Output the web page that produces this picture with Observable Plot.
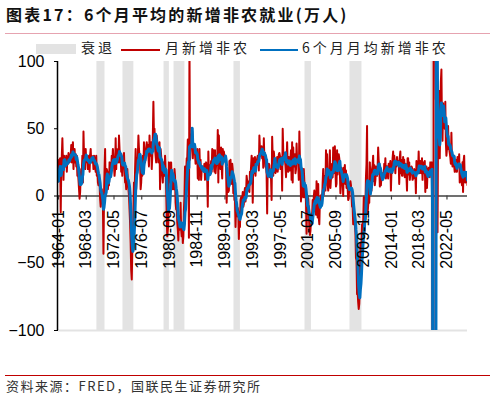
<!DOCTYPE html>
<html><head><meta charset="utf-8">
<script src="https://cdn.jsdelivr.net/npm/d3@7"></script>
<script src="https://cdn.jsdelivr.net/npm/@observablehq/plot@0.6"></script>
<style>
body{margin:0;background:#fff;width:495px;height:399px;overflow:hidden;font-family:"Noto Sans CJK SC",sans-serif;}
#title{margin:0 5px;height:33px;border-bottom:1.5px solid #e6a3b0;font-weight:bold;font-size:16px;line-height:28px;padding-left:1px;letter-spacing:2.2px;color:#111;white-space:nowrap;}
#legend{position:relative;height:14.5px;font-size:14px;letter-spacing:3px;color:#222;z-index:2;}
#legend .it{position:absolute;}
#legend .txt{top:5px;line-height:16px;white-space:nowrap;}
svg{display:block;}
#footer{margin:5px 5px 0 5px;border-top:1.5px solid #c00000;font-size:13px;line-height:20px;letter-spacing:1.5px;color:#333;padding-left:1px;white-space:nowrap;}
</style></head><body>
<div id="title">图表17：6个月平均的新增非农就业(万人)</div>
<div id="legend">
  <div class="it" style="left:36px;top:9.5px;width:40px;height:10px;background:#e3e3e3"></div>
  <div class="it txt" style="left:81px">衰退</div>
  <div class="it" style="left:121px;top:14.5px;width:39px;height:2.5px;background:#c00000"></div>
  <div class="it txt" style="left:165px">月新增非农</div>
  <div class="it" style="left:260px;top:14.5px;width:38px;height:2.5px;background:#0070c0"></div>
  <div class="it txt" style="left:302px">6个月月均新增非农</div>
</div>
<div id="chart"></div>
<div id="footer">资料来源：FRED，国联民生证券研究所</div>
<script>
// monthly change in nonfarm payrolls (万人), starting 1964-01
const startMonth = "1964-01";
const payrollChange = [
  11, 27, 22, 28, -12, 20, 30, 43, 25, 12, 30, 22,   // 1964
  25, 22, 30, 18, 28, 24, 32, 30, 25, 28, 30, 38,    // 1965
  25, 35, 40, 20, 30, 35, 25, 31, 22, 30, 15, 18,    // 1966
  12, 5, -2, 3, 15, 20, 18, 30, 10, 48, 30, 25,      // 1967
  20, 35, 25, 30, 28, 20, 22, 30, 18, 30, 35, 25,    // 1968
  30, 25, 28, 20, 30, 25, 22, 18, 30, 15, 20, 10,    // 1969
  8, 12, 10, -2, -8, -3, 5, -5, -5, -43, 0, 20,      // 1970
  35, 0, 5, 20, 18, 5, 10, 8, 25, 18, 20, 22,        // 1971
  30, 25, 35, 28, 22, 15, 20, 43, 20, 35, 30, 28,    // 1972
  25, 45, 35, 25, 30, 18, 22, 15, 28, 30, 32, 20,    // 1973
  10, 12, 5, 15, 20, 12, 5, 0, -10, -20, -35, -55,   // 1974
  -62, -40, -35, -10, 10, 0, 20, 35, 5, 25, 20, 30,  // 1975
  45, 35, 30, 25, 5, 10, 20, 15, 30, 20, 40, 30,     // 1976
  25, 30, 35, 40, 35, 38, 30, 22, 45, 30, 35, 40,    // 1977
  20, 30, 45, 70, 45, 50, 35, 30, 25, 45, 40, 35,    // 1978
  25, 30, 40, 5, 35, 30, 20, 15, 10, 25, 20, 15,     // 1979
  30, 20, 5, -15, -30, -25, -20, 25, 10, 20, 25, 25, // 1980
  10, 5, 15, 10, 5, 20, 15, -5, -10, -5, -20, -25,   // 1981
  -33, -15, -20, -25, -5, -25, -30, -20, -35, -30, -10, 0, // 1982
  22, -5, 17, 28, 28, 42, 42, -31, 111, 27, 35, 36,  // 1983
  45, 48, 28, 36, 36, 38, 31, 24, 31, 28, 35, 13,    // 1984
  27, 12, 35, 19, 27, 12, 19, 19, 20, 19, 21, 24,    // 1985
  12, 14, 25, 18, 12, -8, 33, 16, 23, 20, 18, 26,    // 1986
  18, 35, 25, 34, 23, 18, 34, 17, 23, 30, 23, 49,    // 1987
  10, 45, 27, 24, 20, 36, 22, 13, 35, 27, 33, 30,    // 1988
  27, 26, 20, -5, 11, 11, 3, 4, 26, 11, 27, 11,      // 1989
  9, 24, 20, 2, 14, -3, -2, -23, -7, -15, -15, -9,   // 1990
  -12, -32, -14, -23, -3, -1, -6, -3, 3, -8, -6, 2,  // 1991
  6, -4, 2, 15, 11, 6, 4, 11, 3, 18, 14, 22,         // 1992
  30, 24, -5, 28, 27, 17, 29, 15, 26, 26, 28, 30,    // 1993
  27, 19, 45, 35, 33, 31, 37, 28, 35, 21, 43, 27,    // 1994
  32, 22, 21, 16, -13, 23, 19, 24, 23, 14, 14, 13,   // 1995
  -3, 44, 28, 15, 33, 28, 19, 17, 19, 23, 29, 18,    // 1996
  23, 31, 32, 30, 20, 26, 29, 4, 50, 33, 31, 30,     // 1997
  27, 22, 14, 27, 40, 21, 18, 29, 21, 19, 28, 34,    // 1998
  12, 40, 10, 36, 22, 27, 31, 17, 20, 39, 26, 29,    // 1999
  24, 12, 48, 28, 22, -4, 16, 0, 12, -1, 20, 11,     // 2000
  -1, 7, -5, -28, -4, -13, -2, -10, -23, -29, -26, -17, // 2001
  -13, -14, -3, -8, -1, 4, -9, -4, -14, 11, 5, -16,  // 2002
  9, -16, -21, -4, -3, 0, 1, -4, 10, 20, 1, 11,      // 2003
  15, 4, 34, 25, 31, 8, 4, 12, 16, 34, 6, 13,        // 2004
  13, 24, 14, 36, 17, 25, 37, 19, 7, 9, 34, 16,      // 2005
  28, 31, 28, 18, 2, 8, 21, 18, 16, 0, 21, 17,       // 2006
  23, 9, 19, 6, 14, 6, -3, -2, 8, 9, 11, 8,          // 2007
  1, -8, -7, -21, -18, -17, -21, -27, -46, -48, -73, -71, // 2008
  -79, -84, -80, -67, -35, -47, -34, -21, -44, -20, -1, -28, // 2009
  -1, -8, 14, 24, 52, -13, -7, -4, -5, 25, 13, 8,    // 2010
  4, 20, 23, 30, 11, 23, 8, 12, 22, 21, 15, 21,      // 2011
  36, 26, 24, 7, 11, 8, 16, 17, 14, 13, 15, 24,      // 2012
  19, 28, 13, 21, 22, 17, 13, 24, 19, 21, 26, 4,     // 2013
  19, 17, 28, 33, 22, 30, 25, 17, 26, 22, 29, 25,    // 2014
  23, 26, 9, 29, 33, 17, 27, 15, 15, 29, 23, 27,     // 2015
  14, 24, 22, 15, 4, 28, 28, 16, 25, 12, 16, 19,     // 2016
  22, 21, 12, 18, 13, 20, 19, 18, 2, 26, 21, 18,     // 2017
  18, 33, 18, 17, 26, 21, 17, 28, 12, 25, 17, 24,    // 2018
  26, 3, 19, 22, 6, 18, 19, 21, 16, 14, 25, 18,      // 2019
  21, 25, -137, -2049, 273, 480, 171, 152, 72, 68, 26, -27, // 2020
  52, 71, 78, 28, 59, 85, 94, 52, 41, 69, 60, 59,    // 2021
  50, 70, 40, 30, 35, 40, 52, 35, 35, 32, 29, 24,    // 2022
  47, 28, 22, 28, 30, 22, 18, 21, 27, 18, 18, 29,    // 2023
  25, 22, 31, 10, 22, 12, 14, 8, 25, 3, 26, 30,      // 2024
  11, 10, 12, 16, 14, 8                              // 2025
];
const recessionStart = ["1969-12","1973-11","1980-01","1981-07","1990-07","2001-03","2007-12","2020-02"];
const recessionEnd   = ["1970-11","1975-03","1980-07","1982-11","1991-03","2001-11","2009-06","2020-04"];
const xTickLabels = ["1964-01","1968-03","1972-05","1976-07","1980-09","1984-11","1989-01","1993-03","1997-05","2001-07","2005-09","2009-11","2014-01","2018-03","2022-05"];
const yTicks = [-100, -50, 0, 50, 100];

const fmt = d3.utcFormat("%Y-%m");
const t0 = d3.utcParse("%Y-%m")(startMonth);
const months = payrollChange.map((_, i) => fmt(d3.utcMonth.offset(t0, i)));
const data = payrollChange.map((v, i) => ({i, month: months[i], v}));
const recessions = recessionStart.map((s, k) => ({a: months.indexOf(s), b: months.indexOf(recessionEnd[k])}));
const xTickIdx = xTickLabels.map(l => months.indexOf(l));

const chart = Plot.plot({
  width: 495, height: 321,
  marginTop: 12, marginBottom: 40, marginLeft: 58, marginRight: 28,
  x: {domain: [0, payrollChange.length - 1], axis: null},
  y: {domain: [-100, 100], ticks: yTicks, tickSize: 4, tickPadding: 10, label: null},
  style: {fontFamily: "'Liberation Sans', Arial, sans-serif", fontSize: "16px", color: "#000", background: "transparent"},
  marks: [
    Plot.rect(recessions, {x1: "a", x2: "b", y1: -100, y2: 100, fill: "#e3e3e3", insetLeft: -1, insetRight: -1}),
    Plot.ruleY([-100], {stroke: "#e3e3e3", strokeWidth: 2}),
    Plot.ruleY([0], {stroke: "#404040", strokeWidth: 1.5}),
    Plot.ruleX(xTickIdx, {x: d => d, y1: 0, y2: -3, stroke: "#404040", strokeWidth: 1.2}),
    Plot.line(data, {x: "i", y: "v", stroke: "#c00000", strokeWidth: 2, clip: true}),
    Plot.line(data, Plot.windowY({k: 6, anchor: "end", reduce: "mean"}, {x: "i", y: "v", stroke: "#0070c0", strokeWidth: 3, clip: true})),
    Plot.ruleX([0], {dx: -1, stroke: "#000", strokeWidth: 1.5}),
    Plot.axisY({ticks: yTicks, tickSize: 4, tickPadding: 10, label: null, fontSize: 16}),
    Plot.text(xTickIdx, {x: d => d, y: 0, text: (d, k) => xTickLabels[k], rotate: -90, textAnchor: "end", dy: 14, fontSize: 16, fill: "#000"})
  ]
});
document.getElementById("chart").appendChild(chart);
</script>
</body></html>
